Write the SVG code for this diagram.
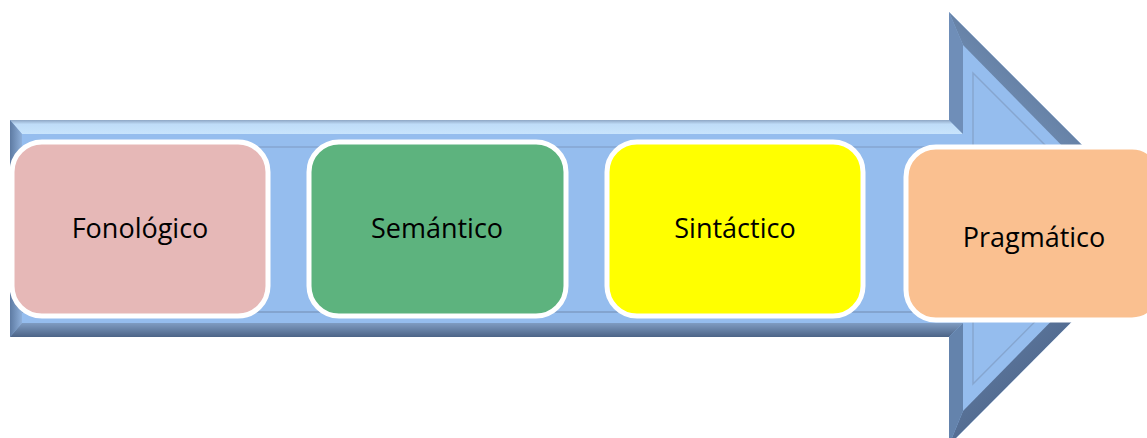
<svg xmlns="http://www.w3.org/2000/svg" width="1147" height="438" viewBox="0 0 1147 438">
<defs>
<linearGradient id="gTop" x1="0" y1="0" x2="0" y2="1"><stop offset="0" stop-color="#8EA6C4"/><stop offset="0.3" stop-color="#BFDCF8"/><stop offset="1" stop-color="#C8E4FC"/></linearGradient>
<linearGradient id="gBot" x1="0" y1="0" x2="0" y2="1"><stop offset="0" stop-color="#7F9CC2"/><stop offset="1" stop-color="#4C6487"/></linearGradient>
<linearGradient id="gLeft" x1="0" y1="0" x2="1" y2="0"><stop offset="0" stop-color="#5E7BA3"/><stop offset="1" stop-color="#8FB0DA"/></linearGradient>
<linearGradient id="gHT" x1="0" y1="1" x2="1" y2="0"><stop offset="0" stop-color="#8FB0DA"/><stop offset="1" stop-color="#3F5574"/></linearGradient>
<linearGradient id="gHB" x1="0" y1="0" x2="1" y2="1"><stop offset="0" stop-color="#7592BB"/><stop offset="1" stop-color="#34496A"/></linearGradient>
</defs>
<style>
.box{stroke:#FFFFFF;stroke-width:5}
.lbl{font-family:"Open Sans","Noto Sans","Liberation Sans",sans-serif;font-size:27px;fill:#000000;text-anchor:middle}
</style>
<g id="arrow">
<polygon points="10,120 949,120 949,12 1165,228 949,445 949,337 10,337" fill="#95BDEE"/>
<polygon points="10,120 949,120 963,134 22,134" fill="url(#gTop)"/>
<polygon points="10,120 22,134 22,323 10,337" fill="url(#gLeft)"/>
<polygon points="10,337 949,337 963,323 22,323" fill="url(#gBot)"/>
<polygon points="949,120 949,12 963,45 963,134" fill="#6F8EB8"/>
<polygon points="949,12 1165,228 1143,228 963,45" fill="url(#gHT)"/>
<polygon points="963,411 1143,228 1165,228 949,445" fill="url(#gHB)"/>
<polygon points="949,337 963,323 963,411 949,445" fill="#6483AC"/>
<polyline points="22,147 963,147" stroke="#86A6D0" stroke-width="1.5" fill="none"/>
<polyline points="22,312 963,312" stroke="#7E9CC4" stroke-width="1.5" fill="none"/>
<polyline points="973,146 973,73 1128,228 973,384 973,312" stroke="#86A6D0" stroke-width="1.5" fill="none"/>
</g>
<g id="node-fonologico">
<rect class="box" x="12" y="142" width="256" height="174" rx="30" fill="#E6B8B7"/>
<text class="lbl" x="140" y="238">Fonológico</text>
</g>
<g id="node-semantico">
<rect class="box" x="309" y="142" width="257" height="174" rx="30" fill="#5DB37E"/>
<text class="lbl" x="437" y="238">Semántico</text>
</g>
<g id="node-sintactico">
<rect class="box" x="607" y="142" width="256" height="174" rx="30" fill="#FFFF00"/>
<text class="lbl" x="735" y="238">Sintáctico</text>
</g>
<g id="node-pragmatico">
<rect class="box" x="906" y="147" width="256" height="173" rx="30" fill="#FAC090"/>
<text class="lbl" x="1034" y="247">Pragmático</text>
</g>
<g id="connectors"></g>
</svg>
